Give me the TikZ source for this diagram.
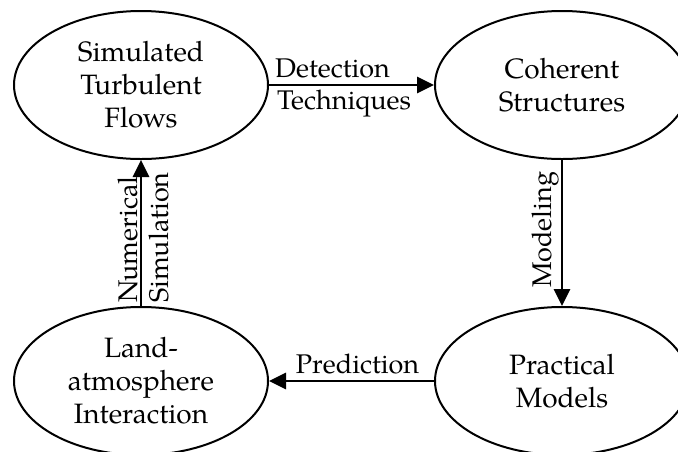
\documentclass[tikz,border=0pt]{standalone}
\usepackage{fontspec}
\setmainfont{TeX Gyre Pagella}
\usetikzlibrary{shapes.geometric,arrows.meta}
\tikzset{
  stage/.style={draw, ellipse, line width=2pt, minimum width=254pt, minimum height=148pt, inner sep=0pt, align=center, font=\fontsize{28}{33}\selectfont},
  arr/.style={line width=2.8pt, -{Triangle[length=17pt,width=16pt]}},
  lbl/.style={inner sep=0pt, font=\fontsize{27}{32.5}\selectfont}
}
\begin{document}
\begin{tikzpicture}[x=1pt,y=-1pt]
\fill[white] (0,0) rectangle (678,451);
\useasboundingbox (0,0) rectangle (678,451);
\node[stage] (tl) at (141,85) {Simulated\\Turbulent\\Flows};
\node[stage] (tr) at (562,85) {Coherent\\Structures};
\node[stage] (bl) at (141,381) {Land-\\atmosphere\\Interaction};
\node[stage] (br) at (562,381) {Practical\\Models};
\draw[arr] (tl.east) -- (tr.west);
\draw[arr] (tr.south) -- (br.north);
\draw[arr] (br.west) -- (bl.east);
\draw[arr] (bl.north) -- (tl.south);
\node[lbl, anchor=base west] (det) at (275,77) {Detection};
\node[lbl, anchor=base west] (tec) at (277,109) {Techniques};
\node[lbl, anchor=base] (pre) at (357.5,373) {Prediction};
\node[lbl, rotate=90, anchor=base west] (num) at (137,303) {Numerical};
\node[lbl, rotate=90, anchor=base west] (sim) at (168,303) {Simulation};
\node[lbl, rotate=90, anchor=base west] (mod) at (551,288) {Modeling};
\end{tikzpicture}
\end{document}
